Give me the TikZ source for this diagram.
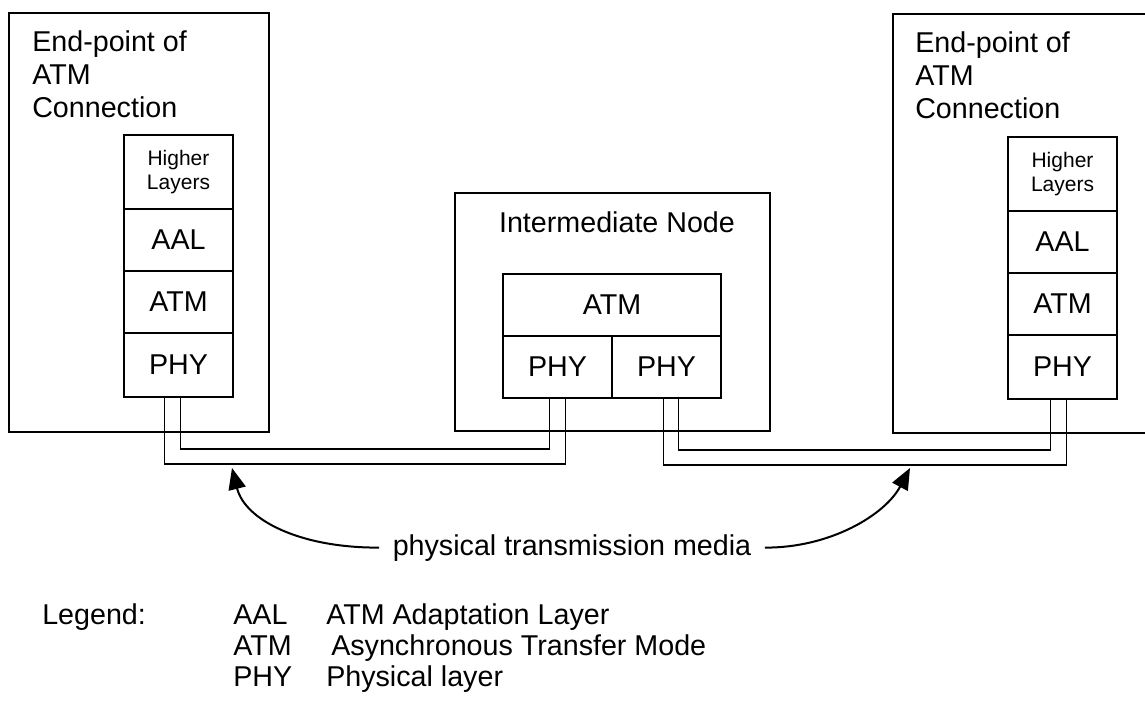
\documentclass[tikz,border=0pt]{standalone}
\usepackage{fontspec}
\setmainfont{Liberation Sans}
\usetikzlibrary{positioning,calc,arrows.meta}
\tikzset{
  layer/.style={draw, line width=1.2pt, minimum width=81.75pt, minimum height=46.5pt,
    inner sep=0pt, outer sep=0pt, align=center, font=\fontsize{21.5}{25}\selectfont},
  higher/.style={layer, minimum height=55.5pt, font=\fontsize{15.75}{18}\selectfont},
  boxline/.style={line width=1.2pt},
  cable/.style={line width=1.2pt},
  headtext/.style={inner sep=0pt, align=left, font=\fontsize{21.5}{24.75}\selectfont},
  legtext/.style={inner sep=0pt, anchor=base west, font=\fontsize{21.5}{25}\selectfont},
  mediaarrow/.style={line width=1.5pt, -{Triangle[length=16pt,width=13pt]}},
}
\begin{document}
\begin{tikzpicture}[x=0.75pt,y=-0.75pt]
  \useasboundingbox (0,0) rectangle (1145,700);
  % end-point (left)
  \draw[boxline] (9,13) rectangle (269,432);
  \node[headtext, anchor=north west] (ltitle) at (32,30) {End-point of\\ATM\\Connection};
  \node[higher, anchor=north west] (lhigh) at (124,135) {Higher\\Layers};
  \node[layer, below=0pt of lhigh] (laal) {AAL};
  \node[layer, below=0pt of laal] (latm) {ATM};
  \node[layer, minimum height=48pt, below=0pt of latm] (lphy) {PHY};
  % intermediate node
  \draw[boxline] (455,193) rectangle (770,431);
  \node[font=\fontsize{21.5}{25}\selectfont, inner sep=0pt, anchor=base] (mtitle) at (617,232) {Intermediate Node};
  \node[layer, minimum width=163.5pt, anchor=north west] (matm) at (503,274) {ATM};
  \node[layer, anchor=north west] (mphyl) at (matm.south west) {PHY};
  \node[layer, anchor=north east] (mphyr) at (matm.south east) {PHY};
  % end-point (right)
  \draw[boxline] (1146,14) -| (893,433) -- (1146,433);
  \node[headtext, anchor=north west] (rtitle) at (915,31) {End-point of\\ATM\\Connection};
  \node[higher, anchor=north west] (rhigh) at (1008,137) {Higher\\Layers};
  \node[layer, below=0pt of rhigh] (raal) {AAL};
  \node[layer, below=0pt of raal] (ratm) {ATM};
  \node[layer, minimum height=48pt, below=0pt of ratm] (rphy) {PHY};
  % links
  \draw[cable] ($(lphy.south)+(2,0)$) |- ($(mphyl.south)+(-8,51)$) -- ($(mphyl.south)+(-8,0)$);
  \draw[cable] ($(lphy.south)+(-14,0)$) |- ($(mphyl.south)+(8,66)$) -- ($(mphyl.south)+(8,0)$);
  \draw[cable] ($(mphyr.south)+(-3,0)$) |- ($(rphy.south)+(4,66)$) -- ($(rphy.south)+(4,0)$);
  \draw[cable] ($(mphyr.south)+(12,0)$) |- ($(rphy.south)+(-12,51)$) -- ($(rphy.south)+(-12,0)$);
  % media label
  \node[font=\fontsize{21.5}{25}\selectfont, inner xsep=10pt, inner ysep=0pt, anchor=base] (media) at (572,555) {physical transmission media};
  \draw[mediaarrow] (media.west) .. controls (300,548) and (245,520) .. (232,468);
  \draw[mediaarrow] (media.east) .. controls (830,548) and (885,515) .. (910,468);
  % legend
  \node[legtext] (leg) at (42,624) {Legend:};
  \node[legtext] (kaal) at (233,624) {AAL};
  \node[legtext] (daal) at (326,624) {ATM Adaptation Layer};
  \node[legtext] (katm) at (233,655) {ATM};
  \node[legtext] (datm) at (331,655) {Asynchronous Transfer Mode};
  \node[legtext] (kphy) at (233,686) {PHY};
  \node[legtext] (dphy) at (326,686) {Physical layer};
\end{tikzpicture}
\end{document}
